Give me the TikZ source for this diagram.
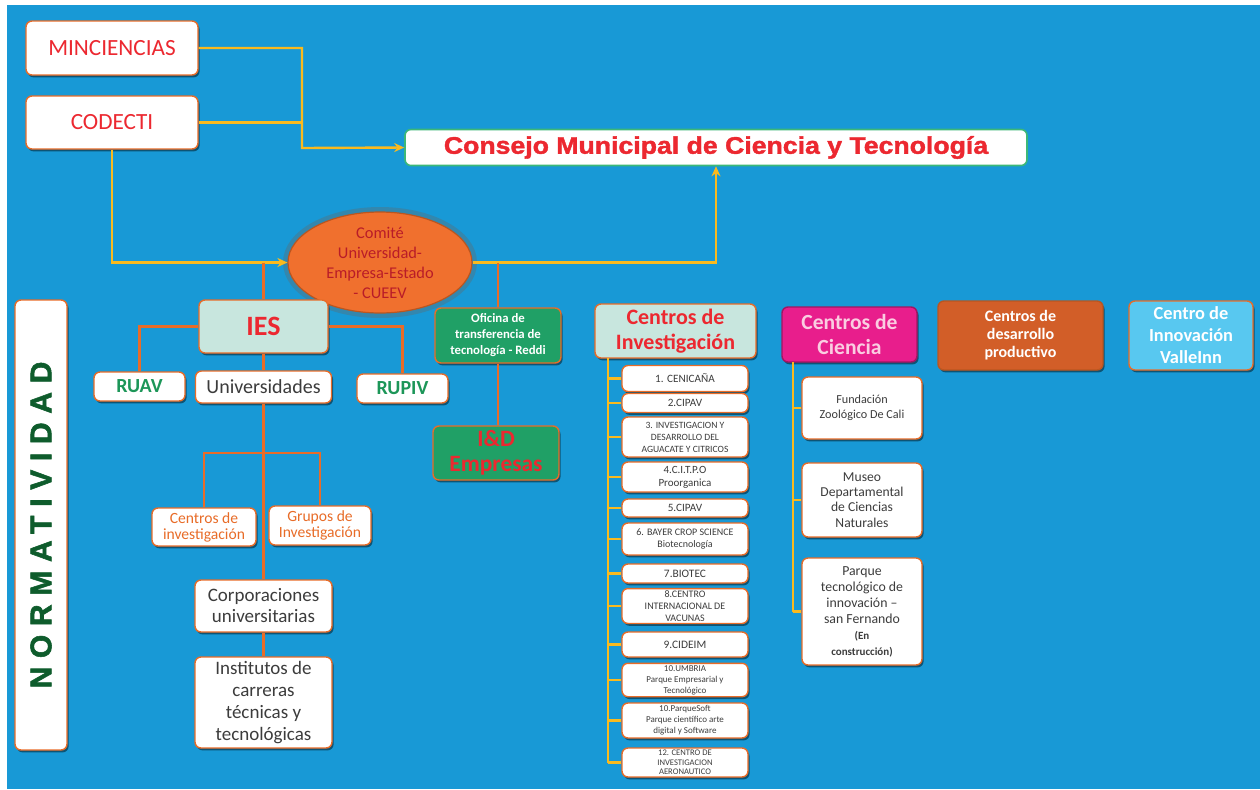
\documentclass[tikz,border=0pt]{standalone}
\usepackage{fontspec}
\setmainfont{Carlito}
\newfontfamily\heavyfont{Liberation Sans}[FakeStretch=1.11,FakeBold=1.6]
\newfontfamily\spacedfont{Liberation Sans}[LetterSpace=29,FakeBold=1.8]
\usetikzlibrary{shapes.geometric,shadows,arrows.meta}

\definecolor{bgblue}{RGB}{24,153,214}
\definecolor{lineorange}{RGB}{232,108,40}
\definecolor{lineyellow}{RGB}{250,186,30}
\definecolor{textred}{RGB}{236,40,48}
\definecolor{textgreen}{RGB}{28,150,88}
\definecolor{darkgreen}{RGB}{14,92,44}
\definecolor{textgray}{RGB}{60,60,60}
\definecolor{mint}{RGB}{200,230,222}
\definecolor{officegreen}{RGB}{32,160,102}
\definecolor{ellipseorange}{RGB}{240,112,46}
\definecolor{ellipsetext}{RGB}{185,28,40}
\definecolor{magentabox}{RGB}{232,30,140}
\definecolor{pinktext}{RGB}{250,205,225}
\definecolor{brownbox}{RGB}{210,94,40}
\definecolor{lightblue}{RGB}{88,200,240}
\definecolor{consejogreen}{RGB}{60,184,120}

\begin{document}
\begin{tikzpicture}[
    x=0.5pt, y=-0.5pt,
    boxstyle/.style={draw=lineorange, fill=white, rounded corners=3pt, line width=0.7pt,
        align=center, inner sep=1pt,
        drop shadow={shadow xshift=0.8pt, shadow yshift=-1.2pt, opacity=0.45, fill=black}},
    itemstyle/.style={boxstyle, minimum width=63pt, text=textgray,
        font=\fontsize{5}{6}\selectfont},
    yline/.style={draw=lineyellow, line width=1.2pt},
    oline/.style={draw=lineorange, line width=1.2pt},
    arrowtip/.style={-{Stealth[length=5pt,width=4.5pt]}}
]
    % page and background
    \useasboundingbox (0,0) rectangle (1260,789);
    \fill[white] (0,0) rectangle (1260,789);
    \fill[bgblue] (7,5) rectangle (1260,789);

    % top level
    \node[boxstyle, minimum width=86pt, minimum height=27pt, text=textred,
        font=\fontsize{11.6}{13}\selectfont] at (112,48) (minc) {MINCIENCIAS};
    \node[boxstyle, minimum width=86pt, minimum height=26.5pt, text=textred,
        font=\fontsize{11.6}{13}\selectfont] at (112,122.5) (codecti) {CODECTI};
    \node[draw=consejogreen, fill=white, rounded corners=3pt, line width=0.8pt,
        minimum width=311pt, minimum height=17.5pt, text=textred,
        font=\fontsize{12}{14}\heavyfont\bfseries] at (716,147.5) (consejo)
        {Consejo Municipal de Ciencia y Tecnología};
    \node[ellipse, draw=lineorange!80!black, fill=ellipseorange, line width=0.6pt,
        minimum width=92pt, minimum height=37.5pt, inner sep=0pt, align=center,
        text=ellipsetext, font=\fontsize{8.2}{10}\selectfont,
        preaction={draw=black!60, line width=5pt, opacity=0.35}] at (380,262.5) (cueev)
        {Comité\\Universidad-\\Empresa-Estado\\- CUEEV};

    \coordinate (junction) at (302,148);
    \draw[yline, arrowtip] (minc.east) -| (junction) -- (consejo.west);
    \draw[yline] (codecti.east) -- (codecti.east -| junction);
    \draw[yline, arrowtip] (codecti.south) |- (cueev.west);
    \draw[yline, arrowtip] (cueev.east) -| (consejo.south);

    % normatividad
    \node[boxstyle, minimum width=26pt, minimum height=225pt] at (41,525) (norm) {};
    \node[rotate=90, text=darkgreen, font=\fontsize{15}{15}\spacedfont\bfseries]
        at (41,525) (normtext) {NORMATIVIDAD};

    % IES branch
    \node[boxstyle, fill=mint, minimum width=64.5pt, minimum height=26.5pt, text=textred,
        font=\fontsize{14}{16}\selectfont\bfseries] at (263.5,326.5) (ies) {IES};
    \node[boxstyle, minimum width=45.5pt, minimum height=14.5pt, text=textgreen,
        font=\fontsize{10}{12}\selectfont\bfseries] at (139.5,386.5) (ruav) {RUAV};
    \node[boxstyle, minimum width=68pt, minimum height=16pt, text=textgray,
        font=\fontsize{10}{12}\selectfont] at (263.5,387) (univ) {Universidades};
    \node[boxstyle, minimum width=45.5pt, minimum height=14.5pt, text=textgreen,
        font=\fontsize{10}{12}\selectfont\bfseries] at (402.5,388.5) (rupiv) {RUPIV};
    \node[boxstyle, minimum width=52pt, minimum height=19pt, text=lineorange,
        font=\fontsize{7.8}{8}\selectfont] at (204,527) (centinv)
        {Centros de\\investigación};
    \node[boxstyle, minimum width=51pt, minimum height=19.5pt, text=lineorange,
        font=\fontsize{7.8}{8}\selectfont] at (320,525.5) (grupos)
        {Grupos de\\Investigación};
    \node[boxstyle, minimum width=68.5pt, minimum height=26pt, text=textgray,
        font=\fontsize{9.5}{10.5}\selectfont] at (263.5,606) (corp)
        {Corporaciones\\universitarias};
    \node[boxstyle, minimum width=68.5pt, minimum height=45.5pt, text=textgray,
        font=\fontsize{9.5}{11}\selectfont] at (263.5,702.5) (inst)
        {Institutos de\\carreras\\técnicas y\\tecnológicas};

    \draw[oline] (ies.north |- cueev.west) -- (ies.north);
    \draw[oline] (ies.west) -| (ruav.north);
    \draw[oline] (ies.east) -| (rupiv.north);
    \draw[oline] (ies.south) -- (univ.north);
    \draw[oline] (univ.south) -- (corp.north);
    \coordinate (branch) at (263.5,453);
    \draw[oline] (centinv.north) |- (branch) -| (grupos.north);
    \draw[oline] (corp.south) -- (inst.north);

    % oficina branch
    \node[boxstyle, fill=officegreen, minimum width=63pt, minimum height=27.5pt, text=white,
        font=\fontsize{6.4}{8}\selectfont\bfseries] at (498,335.5) (oficina)
        {Oficina de\\transferencia de\\tecnología - Reddi};
    \node[boxstyle, fill=officegreen, minimum width=63pt, minimum height=27pt, text=textred,
        font=\fontsize{11.7}{12.5}\selectfont\bfseries] at (496,453) (idemp)
        {I\&D\\Empresas};
    \draw[oline] (oficina.north |- cueev.east) -- (oficina.north);
    \draw[oline] (oficina.south) -- (oficina.south |- idemp.north);

    % centros de investigacion
    \node[boxstyle, fill=mint, minimum width=80.5pt, minimum height=27pt, text=textred,
        font=\fontsize{11}{12.5}\selectfont\bfseries] at (675.5,331) (cinv)
        {Centros de\\Investigación};
    \node[itemstyle, minimum height=13pt, font=\fontsize{5.6}{6.5}\selectfont]
        at (685,378.5) (i1) {1. CENICAÑA};
    \node[itemstyle, minimum height=9.5pt, font=\fontsize{5.6}{6.5}\selectfont]
        at (685,403) (i2) {2.CIPAV};
    \node[itemstyle, minimum height=20pt, font=\fontsize{4.8}{6}\selectfont]
        at (685,437) (i3) {3. INVESTIGACION Y\\DESARROLLO DEL\\AGUACATE Y CITRICOS};
    \node[itemstyle, minimum height=15pt, font=\fontsize{5.5}{6.5}\selectfont]
        at (685,477) (i4) {4.C.I.T.P.O\\Proorganica};
    \node[itemstyle, minimum height=9pt, font=\fontsize{5.6}{6.5}\selectfont]
        at (685,508) (i5) {5.CIPAV};
    \node[itemstyle, minimum height=16pt]
        at (685,539) (i6) {6. BAYER CROP SCIENCE\\Biotecnología};
    \node[itemstyle, minimum height=9.5pt, font=\fontsize{5.7}{6.5}\selectfont]
        at (685,573.5) (i7) {7.BIOTEC};
    \node[itemstyle, minimum height=17pt]
        at (685,606) (i8) {8.CENTRO\\INTERNACIONAL DE\\VACUNAS};
    \node[itemstyle, minimum height=12.5pt, font=\fontsize{5.7}{6.5}\selectfont]
        at (685,644.5) (i9) {9.CIDEIM};
    \node[itemstyle, minimum height=16pt, font=\fontsize{4.5}{5.5}\selectfont]
        at (685,680) (i10) {10.UMBRIA\\Parque Empresarial y\\Tecnológico};
    \node[itemstyle, minimum height=17.5pt, font=\fontsize{4.5}{5.5}\selectfont]
        at (685,720.5) (i11) {10.ParqueSoft\\Parque científico arte\\digital y Software};
    \node[itemstyle, minimum height=14.5pt, font=\fontsize{4.3}{4.8}\selectfont]
        at (685,762.5) (i12) {12. CENTRO DE\\INVESTIGACION\\AERONAUTICO};

    \coordinate (cinvline) at (608,358);
    \draw[yline] (cinvline) -- (cinvline |- i12.west);
    \foreach \item in {i1,i2,i3,i4,i5,i6,i7,i8,i9,i10,i11,i12}
        \draw[yline] (\item.west) -- (\item.west -| cinvline);

    % centros de ciencia
    \node[boxstyle, draw=magentabox!70!black, fill=magentabox, minimum width=67.5pt,
        minimum height=27.5pt, text=pinktext,
        font=\fontsize{10.8}{12.5}\selectfont\bfseries] at (849.5,334.5) (ccien)
        {Centros de\\Ciencia};
    \node[boxstyle, minimum width=60pt, minimum height=31pt, text=textgray,
        font=\fontsize{6.1}{7.5}\selectfont] at (862,408) (fund)
        {Fundación\\Zoológico De Cali};
    \node[boxstyle, minimum width=60pt, minimum height=37pt, text=textgray,
        font=\fontsize{6.8}{7.6}\selectfont] at (862,500) (museo)
        {Museo\\Departamental\\de Ciencias\\Naturales};
    \node[boxstyle, minimum width=60pt, minimum height=53.5pt, text=textgray,
        font=\fontsize{6.9}{8}\selectfont] at (862,611.5) (parque)
        {Parque\\tecnológico de\\innovación --\\san Fernando\\
        {\fontsize{5.5}{6.5}\selectfont\bfseries (En}\\
        {\fontsize{5.5}{6.5}\selectfont\bfseries construcción)}};

    \coordinate (ccienline) at (793,362);
    \draw[yline] (ccienline) -- (ccienline |- parque.west);
    \foreach \item in {fund,museo,parque}
        \draw[yline] (\item.west) -- (\item.west -| ccienline);

    % right boxes
    \node[boxstyle, draw=lineorange!80!black, fill=brownbox, minimum width=82.5pt,
        minimum height=34.5pt, text=white, font=\fontsize{8}{9}\selectfont\bfseries]
        at (1020.5,335.5) (cdes) {Centros de\\desarrollo\\productivo};
    \node[boxstyle, fill=lightblue, minimum width=62pt, minimum height=34.5pt, text=white,
        font=\fontsize{9.2}{11}\selectfont\bfseries] at (1191,335.5) (cvalle)
        {Centro de\\Innovación\\ValleInn};
\end{tikzpicture}
\end{document}
